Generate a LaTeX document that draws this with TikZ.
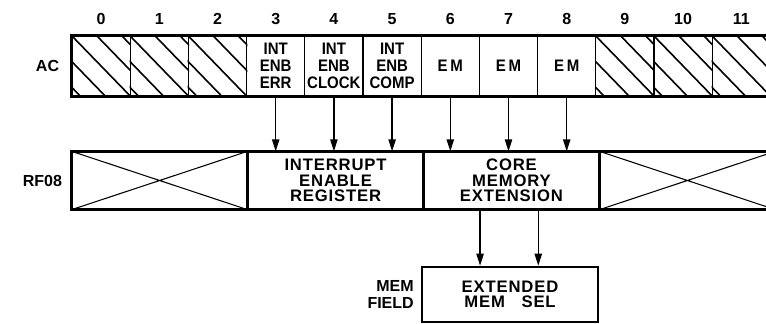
\documentclass[tikz,border=0pt]{standalone}
\usepackage{fontspec}
\setmainfont{Liberation Sans}
\usetikzlibrary{shapes, arrows.meta, positioning}

\begin{document}
\begin{tikzpicture}[x=0.75pt, y=-0.75pt,
    cell/.style={draw, line width=1pt, minimum width=43.65pt, minimum height=45pt, inner sep=0pt, align=center, font=\bfseries\addfontfeatures{FakeStretch=0.9}\fontsize{12.5}{12.75}\selectfont},
    field/.style={draw, line width=1pt, minimum width=130.95pt, minimum height=42.75pt, inner sep=0pt, align=center, font=\bfseries\addfontfeatures{LetterSpace=5}\fontsize{12.5}{11.5}\selectfont},
    outline/.style={line width=2pt},
    hatch/.style={line width=1.2pt},
    feed/.style={line width=1pt, -{Triangle[length=9pt,width=5.5pt]}},
    lbl/.style={font=\bfseries\fontsize{12}{12}\selectfont, inner sep=0pt}]
        \useasboundingbox (0,0) rectangle (766,324);
        % AC word
        \foreach \i/\txt in {0/,1/,2/,3/INT\\ENB\\ERR,4/INT\\ENB\\CLOCK,5/INT\\ENB\\COMP,6/E\,M,7/E\,M,8/E\,M,9/,10/,11/}
          \node[cell] (ac\i) at ({101.1+58.2*\i},66) {\txt};
        \foreach \i in {0,...,11}
          \node[lbl] (bit\i) at ({101.1+58.2*\i},19) {\i};
        \foreach \i in {0,1,2,9,10,11} {
          \begin{scope}
            \clip (ac\i.north west) rectangle (ac\i.south east);
            \foreach \d in {-50,-25,0,25,50}
              \draw[hatch] ([xshift={\d*0.75pt}]ac\i.north west) -- ++(58.2,60);
          \end{scope}
        }
        \draw[outline] (ac0.north west) rectangle (ac11.south east);
        \node[lbl, left=9pt of ac0] (aclbl) {AC};
        % RF08 register
        \node[field] (xl) at (159.6,180.5) {};
        \node[field, right=0pt of xl] (ier) {INTERRUPT\\ENABLE\\REGISTER};
        \node[field, right=0pt of ier] (cme) {CORE\\MEMORY\\EXTENSION};
        \node[field, right=0pt of cme] (xr) {};
        \draw[line width=0.8pt] (xl.north west) -- (xl.south east) (xl.south west) -- (xl.north east);
        \draw[line width=0.8pt] (xr.north west) -- (xr.south east) (xr.south west) -- (xr.north east);
        \draw[outline] (xl.north west) rectangle (xr.south east);
        \node[lbl, left=7pt of xl] (rflbl) {RF08};
        \foreach \i in {3,...,8}
          \draw[feed] (ac\i.south) -- (ac\i.south |- ier.north);
        % memory field
        \node[field, outline, minimum width=132pt, minimum height=41.25pt] (mem) at (510,294.5) {EXTENDED\\MEM\quad SEL};
        \node[lbl, left=5pt of mem, align=right, font=\bfseries\fontsize{12}{12.5}\selectfont] (memlbl) {MEM\\FIELD};
        \draw[feed] (cme.south -| ac6.east) -- (ac6.east |- mem.north);
        \draw[feed] (cme.south -| ac7.east) -- (ac7.east |- mem.north);
      \end{tikzpicture}
\end{document}
